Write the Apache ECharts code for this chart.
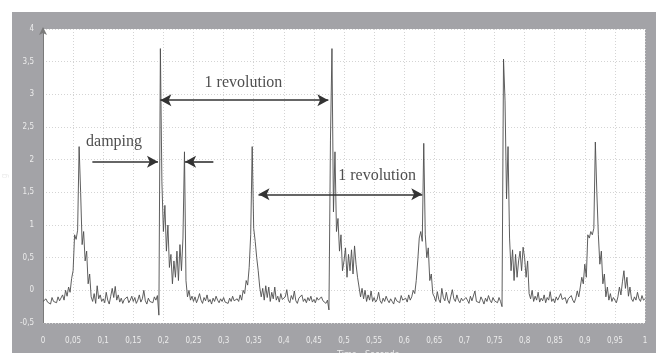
<!DOCTYPE html>
<html>
<head>
<meta charset="utf-8">
<script src="https://cdn.jsdelivr.net/npm/echarts@6/dist/echarts.min.js"></script>
<style>
  html, body { margin: 0; padding: 0; background: #fff; }
  #chart { width: 656px; height: 353px; }
</style>
</head>
<body>
<div id="chart"></div>
<script>
// sample spacing of the trace, seconds
var step = 0.0025;

// acceleration trace, one row = 0.05 s (20 samples)
var signal = [
  -0.17,-0.2,-0.13,-0.18,-0.15,-0.21,-0.11,-0.17,-0.14,-0.19,-0.1,-0.16,-0.13,-0.07,-0.15,0.0,-0.09,0.05,-0.03,0.18,
  0.3,0.85,0.78,0.92,2.2,1.5,0.7,0.9,0.45,0.6,0.1,0.25,-0.1,-0.17,-0.05,-0.2,0.07,-0.13,-0.07,-0.17,
  -0.13,-0.19,-0.03,-0.15,-0.21,-0.09,0.03,-0.11,0.06,-0.15,-0.07,-0.18,-0.12,-0.2,-0.14,-0.17,-0.1,-0.19,-0.15,-0.09,
  -0.17,-0.11,-0.2,-0.15,-0.07,-0.18,-0.13,0.0,-0.16,-0.21,-0.12,-0.17,-0.14,-0.19,-0.1,-0.15,-0.08,-0.38,3.7,1.66,
  0.9,1.3,0.6,1.0,0.35,0.55,0.1,0.45,0.2,0.6,0.15,0.7,0.3,0.8,2.12,0.15,-0.1,0.0,-0.15,-0.09,
  -0.17,-0.1,-0.19,-0.13,-0.05,-0.15,-0.2,-0.11,-0.16,-0.07,-0.18,-0.14,-0.21,-0.12,-0.17,-0.09,-0.15,-0.19,-0.13,-0.17,
  -0.11,-0.18,-0.15,-0.2,-0.12,-0.17,-0.09,-0.16,-0.19,-0.13,-0.17,-0.07,-0.15,0.0,-0.05,0.15,0.08,0.35,0.85,2.2,
  0.95,0.75,0.5,0.3,0.05,-0.1,0.03,-0.15,0.07,-0.11,0.05,-0.17,-0.03,-0.13,0.05,-0.15,-0.09,-0.18,-0.05,-0.14,
  -0.17,-0.1,0.01,-0.15,-0.19,-0.08,-0.14,-0.01,-0.16,-0.2,-0.12,-0.15,-0.07,-0.17,-0.13,-0.19,-0.11,-0.16,-0.09,-0.18,
  -0.14,-0.19,-0.11,-0.15,-0.18,-0.1,-0.16,-0.13,-0.2,-0.15,-0.3,2.3,3.7,1.2,2.12,0.9,1.1,0.6,0.85,0.3,
  0.45,0.65,0.2,0.55,0.3,0.62,0.25,0.68,0.4,0.2,0.05,-0.1,0.03,-0.13,0.0,-0.17,-0.07,-0.15,-0.01,-0.17,
  -0.11,-0.18,-0.14,-0.03,-0.16,-0.2,-0.12,-0.17,-0.09,-0.15,-0.19,-0.13,-0.17,-0.21,-0.11,-0.16,-0.14,-0.19,-0.08,-0.15,
  -0.17,-0.12,-0.18,-0.07,-0.15,-0.1,0.0,-0.05,0.15,0.45,0.8,0.9,0.75,2.25,0.85,0.5,0.65,0.15,0.25,-0.05,
  -0.1,-0.17,-0.02,-0.14,-0.19,0.03,-0.11,-0.16,-0.03,-0.15,-0.2,-0.09,0.01,-0.13,-0.17,-0.07,-0.15,-0.19,-0.12,-0.16,
  -0.18,-0.11,-0.15,-0.2,-0.09,-0.16,-0.13,-0.01,-0.17,-0.14,-0.19,-0.1,-0.15,-0.21,-0.12,-0.17,-0.08,-0.15,-0.19,-0.11,
  -0.16,-0.13,-0.19,-0.11,-0.17,-0.25,3.54,2.9,1.4,2.2,0.8,0.3,0.62,0.15,0.55,0.2,0.45,0.6,0.3,0.66,
  0.5,0.2,0.45,-0.05,-0.13,0.0,-0.17,-0.09,-0.15,-0.03,-0.18,-0.12,-0.16,-0.07,-0.19,-0.11,-0.15,-0.02,-0.17,-0.13,
  -0.19,-0.1,-0.15,-0.18,-0.05,-0.14,-0.17,-0.11,-0.2,-0.13,-0.16,-0.08,-0.15,-0.19,-0.12,-0.01,-0.1,0.05,0.2,0.1,
  0.4,0.2,0.85,0.8,0.9,0.85,0.95,2.27,1.5,0.85,0.4,0.6,0.1,0.25,-0.1,0.05,-0.15,-0.05,-0.17,-0.11,
  -0.15,-0.19,-0.1,0.05,-0.07,0.13,0.3,0.03,0.2,-0.09,0.05,-0.13,-0.17,-0.1,-0.15,-0.03,-0.13,-0.17,-0.08,-0.15,
  -0.13
];

// annotation arrows: [x1, y1, x2, y2, startSymbol, endSymbol]
var arrows = [
  [0.195, 2.91, 0.474, 2.91, "arrow", "arrow"],
  [0.358, 1.47, 0.630, 1.47, "arrow", "arrow"],
  [0.082, 1.97, 0.191, 1.97, "none", "arrow"],
  [0.283, 1.97, 0.236, 1.97, "none", "arrow"]
];

// annotation texts: [x, y, text]
var notes = [
  [0.118, 2.27, "damping"],
  [0.333, 3.17, "1 revolution"],
  [0.555, 1.75, "1 revolution"]
];

var trace = signal.map(function (v, i) {
  return [+(i * step).toFixed(4), v];
});

function comma(v) {
  return String(+v.toFixed(2)).replace(".", ",");
}

var myChart = echarts.init(document.getElementById("chart"));
var tickFont = {
  color: "#ececec",
  fontSize: 8,
  fontFamily: "'Liberation Sans Narrow', 'DejaVu Sans Condensed', sans-serif"
};

var option = {
  animation: false,
  backgroundColor: "#ffffff",
  graphic: [
    {
      type: "rect",
      z: -10,
      shape: { x: 12, y: 12, width: 644, height: 341 },
      style: { fill: "#a3a3a7" }
    }
  ],
  grid: {
    left: 43,
    right: 11,
    top: 29,
    bottom: 30,
    outerBoundsMode: "none",
    containLabel: false,
    show: true,
    backgroundColor: "#ffffff",
    borderWidth: 0
  },
  xAxis: {
    type: "value",
    min: 0,
    max: 1,
    interval: 0.05,
    name: "Time - Seconds",
    nameLocation: "middle",
    nameGap: 27,
    nameTextStyle: {
      color: "#ececec",
      fontSize: 9,
      fontFamily: tickFont.fontFamily,
      padding: [0, 0, 0, 48]
    },
    axisLine: { show: false },
    axisTick: { show: false },
    axisLabel: {
      color: tickFont.color,
      fontSize: tickFont.fontSize,
      fontFamily: tickFont.fontFamily,
      margin: 14,
      formatter: comma
    },
    splitLine: {
      show: true,
      lineStyle: { color: "#d4d4d4", type: [1, 2], width: 1 }
    }
  },
  yAxis: {
    type: "value",
    min: -0.5,
    max: 4,
    interval: 0.5,
    name: "g",
    nameLocation: "middle",
    nameGap: 26,
    nameRotate: 90,
    nameTextStyle: {
      color: "#ececec",
      fontSize: 8,
      fontFamily: tickFont.fontFamily
    },
    axisLine: {
      show: true,
      symbol: ["none", "arrow"],
      symbolSize: [6, 8],
      symbolOffset: [0, 2],
      lineStyle: { color: "#7a7a7a", width: 1 }
    },
    axisTick: { show: false },
    axisLabel: {
      color: tickFont.color,
      fontSize: tickFont.fontSize,
      fontFamily: tickFont.fontFamily,
      margin: 9,
      formatter: comma
    },
    splitLine: {
      show: true,
      lineStyle: { color: "#d4d4d4", type: [1, 2], width: 1 }
    }
  },
  series: [
    {
      type: "line",
      data: trace,
      symbol: "none",
      lineStyle: { color: "#4d4d4d", width: 0.9 },
      markLine: {
        silent: true,
        animation: false,
        label: { show: false },
        lineStyle: { color: "#333333", width: 1.6, type: "solid" },
        symbolSize: [9, 11],
        data: arrows.map(function (a) {
          return [
            { coord: [a[0], a[1]], symbol: a[4] },
            { coord: [a[2], a[3]], symbol: a[5] }
          ];
        })
      }
    },
    {
      type: "scatter",
      symbolSize: 0,
      silent: true,
      data: notes.map(function (n) {
        return { value: [n[0], n[1]], name: n[2] };
      }),
      label: {
        show: true,
        position: "inside",
        formatter: "{b}",
        color: "#222222",
        fontSize: 16,
        fontFamily: "'Liberation Serif', 'DejaVu Serif', serif"
      }
    }
  ]
};

myChart.setOption(option, true);
</script>
</body>
</html>
